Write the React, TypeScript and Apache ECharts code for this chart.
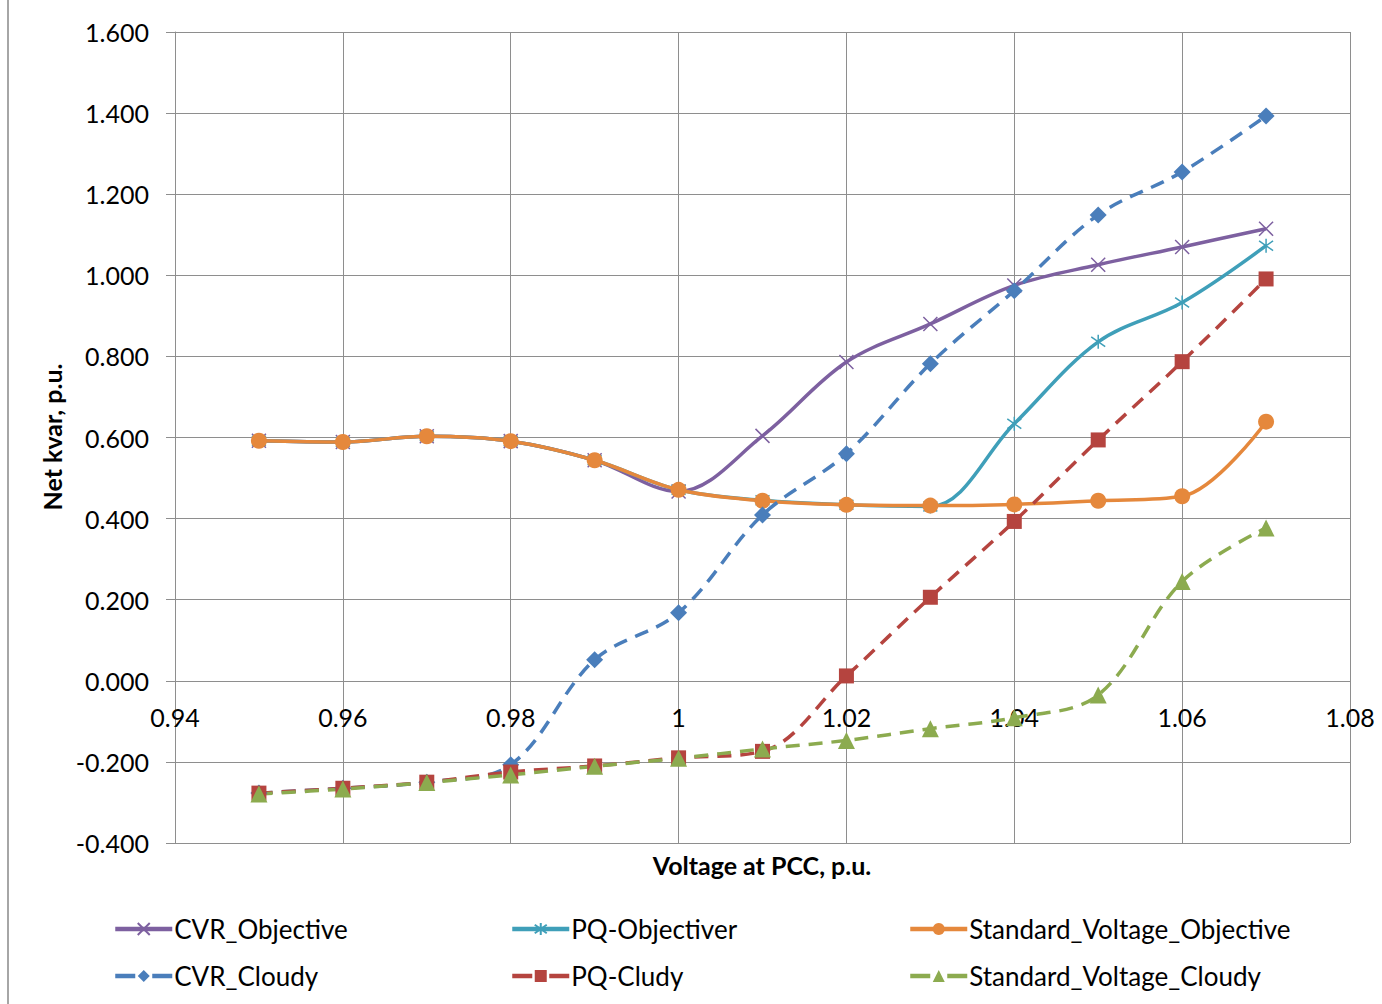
import React, { useEffect, useRef } from "react";
import * as echarts from "echarts";

// Voltage at the point of common coupling (p.u.)
const voltages = [0.95, 0.96, 0.97, 0.98, 0.99, 1.0, 1.01, 1.02, 1.03, 1.04, 1.05, 1.06, 1.07];

// Net kvar (p.u.) for each control mode
const cvrObjective = [0.592, 0.589, 0.603, 0.591, 0.544, 0.467, 0.604, 0.786, 0.880, 0.975, 1.026, 1.070, 1.115];
const pqObjectiver = [0.592, 0.589, 0.603, 0.591, 0.544, 0.471, 0.445, 0.434, 0.430, 0.634, 0.836, 0.933, 1.073];
const stdVoltageObjective = [0.592, 0.589, 0.603, 0.591, 0.544, 0.471, 0.444, 0.434, 0.432, 0.435, 0.444, 0.455, 0.639];
const cvrCloudy = [-0.277, -0.265, -0.250, -0.207, 0.052, 0.168, 0.409, 0.560, 0.782, 0.962, 1.149, 1.255, 1.393];
const pqCludy = [-0.277, -0.265, -0.250, -0.225, -0.210, -0.190, -0.174, 0.012, 0.206, 0.393, 0.594, 0.787, 0.991];
const stdVoltageCloudy = [-0.279, -0.267, -0.251, -0.232, -0.211, -0.191, -0.168, -0.147, -0.118, -0.091, -0.035, 0.245, 0.377];

const seriesNames = [
  "CVR_Objective",
  "PQ-Objectiver",
  "Standard_Voltage_Objective",
  "CVR_Cloudy",
  "PQ-Cludy",
  "Standard_Voltage_Cloudy",
];

const Y_MIN = -0.4;
const Y_MAX = 1.6;

const FONT = "Lato";
const GRID_COLOR = "#8e8e8e";

const GRID_TOP = 32;
const GRID_BOTTOM = 161;
const CHART_H = 1004;

const CROSS = "path://M0,0L10,10M10,0L0,10";
const STAR = "path://M1,1.5L9,8.5M9,1.5L1,8.5M5,0L5,10";

function pairs(ys: number[]) {
  return voltages.map((v, i) => [v, ys[i]]);
}

export default function App() {
  const ref = useRef<HTMLDivElement>(null);

  useEffect(() => {
    if (!ref.current) return;
    const chart = echarts.init(ref.current, null, { renderer: "svg" });

    // the horizontal axis crosses the vertical one at zero
    const plotH = CHART_H - GRID_TOP - GRID_BOTTOM;
    const zeroOffset = -(plotH * (0 - Y_MIN)) / (Y_MAX - Y_MIN);

    const solid = (name: string, ys: number[], color: string, symbol: string, size: number, stroked: boolean) => ({
      name,
      type: "line",
      data: pairs(ys),
      smooth: 0.35,
      symbol,
      symbolSize: size,
      showSymbol: true,
      lineStyle: { color, width: 3.5, type: "solid" },
      itemStyle: stroked
        ? { color, borderColor: color, borderWidth: 1.5 }
        : { color, borderColor: color, borderWidth: 0 },
      z: 2,
    });

    const dashed = (name: string, ys: number[], color: string, symbol: string, size: number) => ({
      name,
      type: "line",
      data: pairs(ys),
      smooth: 0.35,
      symbol,
      symbolSize: size,
      showSymbol: true,
      lineStyle: { color, width: 3.5, type: [14, 9] },
      itemStyle: { color, borderWidth: 0 },
      z: 2,
    });

    const legendCols = [113, 510, 908];
    const legendRows = [916, 963];
    const legends = seriesNames.map((name, i) => {
      const isDashed = i >= 3;
      return {
        data: [name],
        left: legendCols[i % 3],
        top: legendRows[Math.floor(i / 3)],
        itemWidth: 57,
        itemHeight: 15,
        padding: 0,
        lineStyle: { width: 4.5, type: isDashed ? [20, 17] : "solid" },
        textStyle: { fontFamily: FONT, fontSize: 26, color: "#000", padding: [0, 0, 0, -3] },
        selectedMode: false,
      };
    });

    chart.setOption({
      animation: false,
      backgroundColor: "#ffffff",
      grid: { left: 175, right: 32, top: GRID_TOP, bottom: GRID_BOTTOM, containLabel: false },
      legend: legends,
      xAxis: {
        type: "value",
        min: 0.94,
        max: 1.08,
        interval: 0.02,
        offset: zeroOffset,
        axisLine: { show: true, onZero: false, lineStyle: { color: GRID_COLOR, width: 1 } },
        axisTick: { show: false },
        axisLabel: {
          fontFamily: FONT,
          fontSize: 25,
          color: "#000",
          margin: 24,
          formatter: (v: number) => String(parseFloat(v.toFixed(2))),
        },
        splitLine: { show: true, lineStyle: { color: GRID_COLOR, width: 1 } },
      },
      yAxis: {
        type: "value",
        min: Y_MIN,
        max: Y_MAX,
        interval: 0.2,
        axisLine: { show: true, lineStyle: { color: GRID_COLOR, width: 1 } },
        axisTick: { show: true, length: 9, lineStyle: { color: GRID_COLOR } },
        axisLabel: {
          fontFamily: FONT,
          fontSize: 25,
          color: "#000",
          margin: 26,
          formatter: (v: number) => v.toFixed(3),
        },
        splitLine: { show: true, lineStyle: { color: GRID_COLOR, width: 1 } },
      },
      graphic: [
        {
          type: "line",
          shape: { x1: 8, y1: 0, x2: 8, y2: 1004 },
          style: { stroke: "#a6a6a6", lineWidth: 2 },
        },
        {
          type: "text",
          x: 762,
          y: 865,
          style: {
            text: "Voltage at PCC, p.u.",
            fontFamily: FONT,
            fontWeight: "bold",
            fontSize: 25,
            fill: "#000",
            align: "center",
            verticalAlign: "middle",
          },
        },
        {
          type: "text",
          x: 52,
          y: 437,
          rotation: Math.PI / 2,
          style: {
            text: "Net kvar, p.u.",
            fontFamily: FONT,
            fontWeight: "bold",
            fontSize: 25,
            fill: "#000",
            align: "center",
            verticalAlign: "middle",
          },
        },
      ],
      series: [
        solid(seriesNames[0], cvrObjective, "#7d60a0", CROSS, 14, true),
        solid(seriesNames[1], pqObjectiver, "#3f9fb9", STAR, 14, true),
        solid(seriesNames[2], stdVoltageObjective, "#e5883c", "circle", 16, false),
        dashed(seriesNames[3], cvrCloudy, "#4a7ebb", "diamond", 17),
        dashed(seriesNames[4], pqCludy, "#b5443f", "rect", 15),
        dashed(seriesNames[5], stdVoltageCloudy, "#8cab4f", "triangle", 17),
      ],
    });

    return () => chart.dispose();
  }, []);

  return (
    <div
      ref={ref}
      style={{ position: "absolute", left: 0, top: 0, width: 1382, height: 1004, background: "#fff" }}
    />
  );
}
